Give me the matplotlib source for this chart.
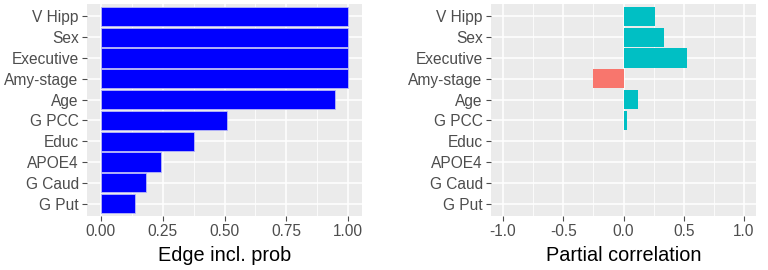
import matplotlib
matplotlib.use("Agg")
import matplotlib.pyplot as plt
from matplotlib.ticker import MultipleLocator

plt.rcParams.update({
    "font.family": ["Liberation Sans", "DejaVu Sans"],
    "font.size": 11,
})

NODES = ["V Hipp", "Sex", "Executive", "Amy-stage", "Age",
         "G PCC", "Educ", "APOE4", "G Caud", "G Put"]
INCL_PROB = [1.0, 1.0, 1.0, 1.0, 0.946, 0.509, 0.378, 0.244, 0.183, 0.139]
PARTIAL_COR = [0.261, 0.336, 0.526, -0.25, 0.12, 0.026, 0.0, 0.0, 0.0, 0.0]

BG = "#EBEBEB"
TXT = "#4D4D4D"


def gg_style(ax):
    ax.set_facecolor(BG)
    for s in ax.spines.values():
        s.set_visible(False)
    ax.grid(True, which="major", color="white", linewidth=1.1)
    ax.grid(True, which="minor", axis="x", color="white", linewidth=0.55)
    ax.set_axisbelow(True)
    ax.tick_params(axis="both", which="major", colors=TXT, labelcolor=TXT,
                   length=3.5, width=0.8, labelsize=11.2, pad=2.5)
    ax.tick_params(axis="both", which="minor", length=0)


fig = plt.figure(figsize=(7.68, 2.7), dpi=100)
ax1 = fig.add_axes([87 / 768, 54 / 270, 275 / 768, 212 / 270])
ax2 = fig.add_axes([491 / 768, 54 / 270, 265 / 768, 212 / 270])

y = list(range(len(NODES)))[::-1]

# left: edge inclusion probability
gg_style(ax1)
ax1.barh(y, INCL_PROB, height=0.92, color="#0000FF", edgecolor="#B8B8F8", linewidth=0.6)
ax1.set_xlim(-0.055, 1.055)
ax1.set_xticks([0, 0.25, 0.5, 0.75, 1.0])
ax1.set_xticklabels(["0.00", "0.25", "0.50", "0.75", "1.00"])
ax1.xaxis.set_minor_locator(MultipleLocator(0.125))
ax1.set_yticks(y)
ax1.set_yticklabels(NODES)
ax1.set_ylim(-0.6, len(NODES) - 0.4)
ax1.set_xlabel("Edge incl. prob", fontsize=14.3, color="black", labelpad=5)

# right: partial correlation
gg_style(ax2)
cols = ["#F8766D" if v < 0 else "#00BFC4" for v in PARTIAL_COR]
ax2.barh(y, PARTIAL_COR, height=0.92, color=cols, edgecolor="none")
ax2.set_xlim(-1.1, 1.1)
ax2.set_xticks([-1.0, -0.5, 0.0, 0.5, 1.0])
ax2.set_xticklabels(["-1.0", "-0.5", "0.0", "0.5", "1.0"])
ax2.xaxis.set_minor_locator(MultipleLocator(0.25))
ax2.set_yticks(y)
ax2.set_yticklabels(NODES)
ax2.set_ylim(-0.6, len(NODES) - 0.4)
ax2.set_xlabel("Partial correlation", fontsize=14.3, color="black", labelpad=5)

fig.savefig("out.png", dpi=100)
